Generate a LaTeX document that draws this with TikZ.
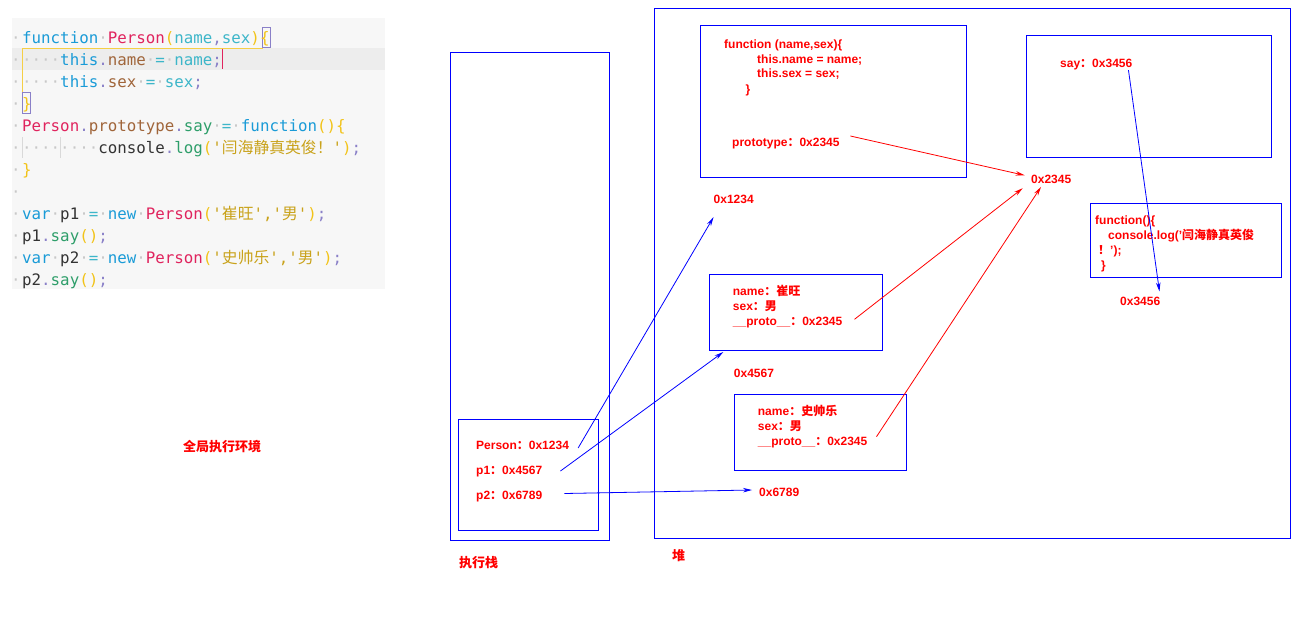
\documentclass[tikz,border=0pt]{standalone}
\usepackage{fontspec}
\setmainfont{Liberation Sans}
\newfontfamily\zhfont{Noto Sans CJK SC}
\newfontfamily\codefont{DejaVu Sans Mono}
\usetikzlibrary{arrows.meta,positioning}
\definecolor{kwc}{HTML}{1A9BD7}
\definecolor{fnc}{HTML}{E0245E}
\definecolor{brc}{HTML}{F2C318}
\definecolor{pac}{HTML}{3DB6C9}
\definecolor{puc}{HTML}{8A80C8}
\definecolor{prc}{HTML}{A0653A}
\definecolor{mtc}{HTML}{2E9E6A}
\definecolor{stc}{HTML}{C9A21A}
\definecolor{txc}{HTML}{333333}
\definecolor{wsc}{HTML}{C8C8C8}
\def\zh#1{{\zhfont #1}}
\def\jkw#1{\textcolor{kwc}{#1}}
\def\jfn#1{\textcolor{fnc}{#1}}
\def\jbr#1{\textcolor{brc}{#1}}
\def\jpa#1{\textcolor{pac}{#1}}
\def\jpu#1{\textcolor{puc}{#1}}
\def\jpr#1{\textcolor{prc}{#1}}
\def\jmt#1{\textcolor{mtc}{#1}}
\def\jst#1{\textcolor{stc}{#1}}
\def\jtx#1{\textcolor{txc}{#1}}
\def\jw{\textcolor{wsc}{·}}
\begin{document}
\begin{tikzpicture}[x=1pt,y=-1pt,
	box/.style={draw=blue, line width=1pt, anchor=north west, inner sep=0pt},
	lbl/.style={text=red, anchor=west, inner sep=0pt, text height=8.6pt, text depth=0pt, font=\bfseries\fontsize{12}{14}\selectfont},
	zhl/.style={lbl, font=\bfseries\zhfont\fontsize{13}{15}\selectfont},
	code/.style={anchor=base west, inner sep=0pt, font=\codefont\fontsize{15.8}{18}\selectfont},
	gut/.style={code, anchor=base, text=wsc},
	bptr/.style={draw=blue, line width=0.8pt, -{Stealth[length=9pt,width=4.5pt]}},
	rptr/.style={bptr, draw=red}]
\useasboundingbox (0,0) rectangle (1313,616);
% editor screenshot
\fill[black!3] (12,18) rectangle (385,289);
\fill[black!7] (12,48) rectangle (385,70);
\draw[brc!80] (22,48) -- (263,48) (22,48) -- (22,93);
\draw[puc, line width=1pt] (262,27) rectangle (270.5,47) (22,92.5) rectangle (30.5,113);
\draw[fnc, line width=1.5pt] (222.5,48.5) -- (222.5,69);
\draw[black!15] (22,137) -- (22,158) (60,137) -- (60,158);
\foreach \i in {0,...,11} \node[gut] at (16,{43+22*\i}) {·};
\node[code]	(l_1)	at (22,43)	{\jkw{function}\jw\jfn{Person}\jbr{(}\jpa{name}\jpu{,}\jpa{sex}\jbr{)}\jbr{\{}};
\node[code]	(l_2)	at (22,65)	{\jw\jw\jw\jw\jkw{this}\jpu{.}\jpr{name}\jw\jpa{=}\jw\jpa{name}\jpu{;}};
\node[code]	(l_3)	at (22,87)	{\jw\jw\jw\jw\jkw{this}\jpu{.}\jpr{sex}\jw\jpa{=}\jw\jpa{sex}\jpu{;}};
\node[code]	(l_4)	at (22,109)	{\jbr{\}}};
\node[code]	(l_5)	at (22,131)	{\jfn{Person}\jpu{.}\jpr{prototype}\jpu{.}\jmt{say}\jw\jpa{=}\jw\jkw{function}\jbr{()\{}};
\node[code]	(l_6)	at (22,153)	{\jw\jw\jw\jw\jw\jw\jw\jw\jtx{console}\jpu{.}\jmt{log}\jbr{(}\jst{'\zh{闫海静真英俊！}'}\jbr{)}\jpu{;}};
\node[code]	(l_7)	at (22,175)	{\jbr{\}}};
\node[code]	(l_9)	at (22,219)	{\jkw{var}\jw\jtx{p1}\jw\jpa{=}\jw\jkw{new}\jw\jfn{Person}\jbr{(}\jst{'\zh{崔旺}','\zh{男}'}\jbr{)}\jpu{;}};
\node[code]	(l_10)	at (22,241)	{\jtx{p1}\jpu{.}\jmt{say}\jbr{()}\jpu{;}};
\node[code]	(l_11)	at (22,263)	{\jkw{var}\jw\jtx{p2}\jw\jpa{=}\jw\jkw{new}\jw\jfn{Person}\jbr{(}\jst{'\zh{史帅乐}','\zh{男}'}\jbr{)}\jpu{;}};
\node[code]	(l_12)	at (22,285)	{\jtx{p2}\jpu{.}\jmt{say}\jbr{()}\jpu{;}};
% memory
\node[box, minimum width=159pt, minimum height=488pt]	(stack)	at (449.5,52)	{};
\node[box, minimum width=140pt, minimum height=110.7pt]	(frame)	at (458.3,419.3)	{};
\node[box, minimum width=636pt, minimum height=530pt]	(heap)	at (654,8)	{};
\node[box, minimum width=266pt, minimum height=152pt]	(ctor)	at (700,25.3)	{};
\node[box, minimum width=245pt, minimum height=122pt]	(proto)	at (1026,35.3)	{};
\node[box, minimum width=191pt, minimum height=74.6pt]	(sayfn)	at (1090,202.7)	{};
\node[box, minimum width=172.5pt, minimum height=75.7pt]	(obj1)	at (709.3,274.3)	{};
\node[box, minimum width=172pt, minimum height=76pt]	(obj2)	at (734.3,394.3)	{};
\node[zhl]	(glob)	at (183,447)	{全局执行环境};
\node[zhl]	(stk)	at (459,563.5)	{执行栈};
\node[zhl]	(hp)	at (672,556)	{堆};
\node[lbl]	(per)	at (476,445)	{Person\zh{：}0x1234};
\node[lbl]	(pv1)	at (476,470.5)	{p1\zh{：}0x4567};
\node[lbl]	(pv2)	at (476,495.5)	{p2\zh{：}0x6789};
\node[lbl]	(f_1)	at (724,44)	{function (name,sex)\{};
\node[lbl]	(f_2)	at (757,59)	{this.name = name;};
\node[lbl]	(f_3)	at (757,73.5)	{this.sex = sex;};
\node[lbl]	(f_4)	at (745.5,89)	{\}};
\node[lbl]	(ptl)	at (732,141.7)	{prototype\zh{：}0x2345};
\node[lbl]	(a1234)	at (713.5,199)	{0x1234};
\node[lbl]	(a2345)	at (1031,178.7)	{0x2345};
\node[lbl]	(say)	at (1060,62.7)	{say\zh{：}0x3456};
\node[lbl]	(g_1)	at (1095,220)	{function()\{};
\node[lbl]	(g_2)	at (1108,235)	{console.log('\zh{闫海静真英俊}};
\node[lbl]	(g_3)	at (1098,250)	{\zh{！}');};
\node[lbl]	(g_4)	at (1101,265.5)	{\}};
\node[lbl]	(a3456)	at (1120,300.7)	{0x3456};
\node[lbl]	(n_1)	at (732.7,291)	{name\zh{：崔旺}};
\node[lbl]	(s_1)	at (732.7,305.7)	{sex\zh{：男}};
\node[lbl]	(r_1)	at (732.7,320.7)	{\_\_proto\_\_\zh{：}0x2345};
\node[lbl]	(a4567)	at (733.7,372.7)	{0x4567};
\node[lbl]	(n_2)	at (757.7,411)	{name\zh{：史帅乐}};
\node[lbl]	(s_2)	at (757.7,425.7)	{sex\zh{：男}};
\node[lbl]	(r_2)	at (757.7,441)	{\_\_proto\_\_\zh{：}0x2345};
\node[lbl]	(a6789)	at (759,492)	{0x6789};
\draw[bptr]	([shift={(9pt,-3pt)}]per.east)		-- ([yshift=-13.7pt]a1234.south west);
\draw[bptr]	([shift={(18pt,-0.5pt)}]pv1.east)	-- ([shift={(14pt,-1pt)}]obj1.south west);
\draw[bptr]	([shift={(22pt,2pt)}]pv2.east)		-- ([shift={(-7pt,2pt)}]a6789.west);
\draw[bptr]	([shift={(-4pt,-3pt)}]say.south east)	-- ([shift={(-1pt,4.7pt)}]a3456.north east);
\draw[rptr]	([shift={(10.6pt,5.7pt)}]ptl.east)	-- ([shift={(-6.4pt,3.4pt)}]a2345.west);
\draw[rptr]	([shift={(12pt,1.4pt)}]r_1.east)	-- ([shift={(-8.3pt,-5pt)}]a2345.south west);
\draw[rptr]	([shift={(9pt,4.3pt)}]r_2.east)		-- ([shift={(10pt,-3.7pt)}]a2345.south west);
\end{tikzpicture}
\end{document}
